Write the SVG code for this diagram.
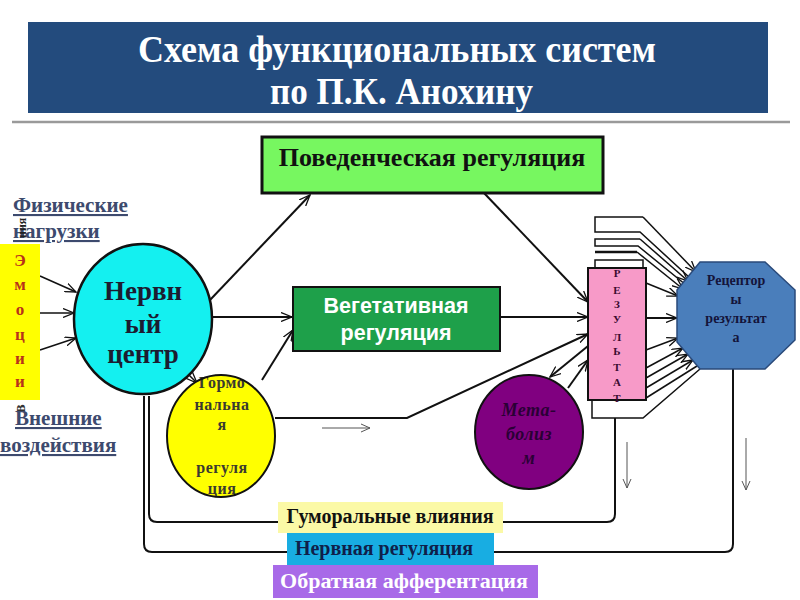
<svg xmlns="http://www.w3.org/2000/svg" width="800" height="600" viewBox="0 0 800 600">
<defs>
<marker id="ah" markerWidth="12" markerHeight="10" refX="11" refY="5" orient="auto" markerUnits="userSpaceOnUse">
<path d="M0,0.5 L11,5 L0,9.5" fill="none" stroke="#111" stroke-width="1.3"/>
</marker>
<marker id="ahg" markerWidth="10" markerHeight="10" refX="9" refY="5" orient="auto" markerUnits="userSpaceOnUse">
<path d="M0,1 L9,5 L0,9" fill="none" stroke="#555" stroke-width="1"/>
</marker>
<style>
.ser{font-family:"Liberation Serif","Times New Roman",serif;font-weight:bold}
.san{font-family:"Liberation Sans",Arial,sans-serif;font-weight:bold}
.ln{fill:none;stroke:#111;stroke-width:2}
.lt{fill:none;stroke:#111;stroke-width:1.5}
.side{fill:#3d4a6e;font-size:21px;text-decoration:underline}
</style>
</defs>
<rect width="800" height="600" fill="#ffffff"/>

<g id="title">
<rect x="28" y="22" width="740" height="91" fill="#234b7d"/>
<text class="ser" x="138" y="62" font-size="37" fill="#fff" textLength="518" lengthAdjust="spacingAndGlyphs">Схема функциональных систем</text>
<text class="ser" x="270" y="104" font-size="37" fill="#fff" textLength="263" lengthAdjust="spacingAndGlyphs">по П.К. Анохину</text>
</g>
<line x1="12" y1="122" x2="790" y2="122" stroke="#9a9a9a" stroke-width="2.5"/>

<g id="connectors">
<line class="ln" x1="210" y1="300" x2="310" y2="195" marker-end="url(#ah)"/>
<line class="ln" x1="212" y1="317" x2="292" y2="317" marker-end="url(#ah)"/>
<line class="ln" x1="262" y1="380" x2="293" y2="330" marker-end="url(#ah)"/>
<line class="lt" x1="186" y1="372" x2="197" y2="383" marker-end="url(#ah)"/>
<line class="ln" x1="484" y1="193" x2="588" y2="302" marker-end="url(#ah)"/>
<line class="ln" x1="500" y1="317" x2="588" y2="317" marker-end="url(#ah)"/>
<polyline class="ln" points="275,418 407,418 588,334" marker-end="url(#ah)"/>
<line class="ln" x1="588" y1="346" x2="550" y2="377" marker-end="url(#ah)"/>
<line class="ln" x1="568" y1="388" x2="588" y2="360" marker-end="url(#ah)"/>
<line x1="322" y1="428" x2="370" y2="428" stroke="#555" stroke-width="1" marker-end="url(#ahg)"/>
<line x1="627" y1="442" x2="627" y2="488" stroke="#555" stroke-width="1" marker-end="url(#ahg)"/>
<line x1="746" y1="438" x2="746" y2="490" stroke="#555" stroke-width="1" marker-end="url(#ahg)"/>
<line class="lt" x1="40" y1="276" x2="76" y2="292" marker-end="url(#ah)"/>
<line class="lt" x1="40" y1="313" x2="74" y2="313" marker-end="url(#ah)"/>
<line class="lt" x1="40" y1="350" x2="76" y2="338" marker-end="url(#ah)"/>
<line class="lt" x1="646" y1="283" x2="678" y2="296" marker-end="url(#ah)"/>
<line class="ln" x1="646" y1="318" x2="677" y2="318" marker-end="url(#ah)"/>
<line class="lt" x1="646" y1="350" x2="678" y2="338" marker-end="url(#ah)"/>
<line class="lt" x1="646" y1="368" x2="683" y2="348" marker-end="url(#ah)"/>
<line class="lt" x1="646" y1="378" x2="688" y2="354" marker-end="url(#ah)"/>
<line class="lt" x1="646" y1="388" x2="693" y2="360" marker-end="url(#ah)"/>
<path class="lt" d="M643,217 H595 V232 H640 L690,278"/>
<line class="lt" x1="643" y1="217" x2="696" y2="272" marker-end="url(#ah)"/>
<path class="lt" d="M640,239 H595 V246 H638 L686,285"/>
<line class="lt" x1="640" y1="239" x2="688" y2="281" marker-end="url(#ah)"/>
<line x1="595" y1="252" x2="637" y2="252" stroke="#111" stroke-width="2.5"/>
<line class="lt" x1="637" y1="252" x2="683" y2="289" marker-end="url(#ah)"/>
<rect x="595" y="260" width="48" height="8" fill="#fff" stroke="#111" stroke-width="1.5"/>
<path class="lt" d="M592,401 V418 H643 L700,369"/>
<line class="lt" x1="646" y1="398" x2="697" y2="366"/>
<path class="ln" d="M149,396 V514 Q149,522 157,522 H607 Q615,522 615,514 V418"/>
<path class="ln" d="M144,396 V544 Q144,552 152,552 H725 Q733,552 733,544 V369"/>
</g>

<g id="emotions">
<rect x="0" y="244" width="40" height="156" fill="#ffff00"/>
<g class="ser" font-size="17" fill="#b8321a" text-anchor="middle">
<text x="20" y="266">Э</text><text x="20" y="290">м</text><text x="20" y="315">о</text>
<text x="20" y="340">ц</text><text x="20" y="364">и</text><text x="20" y="387">и</text>
</g>
</g>

<g id="side-labels">
<text class="ser side" x="13" y="212">Физические</text>
<text class="ser side" x="13" y="238">нагрузки</text>
<text class="ser" font-size="12" fill="#222" transform="translate(26,238) rotate(-90)">ния</text>
<text class="ser" font-size="16" fill="#333" transform="translate(25,413) rotate(-90)">в</text>
<text class="ser side" x="15" y="425">Внешние</text>
<text class="ser side" x="0" y="452">воздействия</text>
</g>

<g id="nerve-center">
<ellipse cx="143" cy="319" rx="69" ry="75" fill="#14f0f0" stroke="#111" stroke-width="2.5"/>
<g class="ser" font-size="27" fill="#1c1c30" text-anchor="middle">
<text x="143" y="300">Нервн</text><text x="143" y="333">ый</text><text x="143" y="363">центр</text>
</g>
</g>

<g id="behavioral">
<rect x="262" y="137" width="341" height="56" fill="#77f760" stroke="#111" stroke-width="3"/>
<text class="ser" x="432" y="166" font-size="26" fill="#111" text-anchor="middle">Поведенческая регуляция</text>
</g>

<g id="vegetative">
<rect x="293" y="287" width="207" height="64" fill="#1ea04a" stroke="#111" stroke-width="2"/>
<text class="san" x="396" y="313" font-size="21.5" fill="#fff" text-anchor="middle">Вегетативная</text>
<text class="san" x="396" y="340" font-size="21.5" fill="#fff" text-anchor="middle">регуляция</text>
</g>

<g id="hormonal">
<ellipse cx="221" cy="436" rx="54" ry="61" fill="#ffff00"/>
<g class="ser" font-size="16" fill="#3a3a30" text-anchor="middle" letter-spacing="0.5">
<text x="222" y="388">Гормо</text><text x="222" y="410">нальна</text><text x="222" y="430">я</text>
<text x="222" y="473">регуля</text><text x="222" y="494">ция</text>
</g>
<ellipse cx="221" cy="436" rx="54" ry="61" fill="none" stroke="#111" stroke-width="2"/>
</g>

<g id="metabolism">
<ellipse cx="529" cy="432" rx="54" ry="57" fill="#800080" stroke="#111" stroke-width="2"/>
<g class="ser" font-size="18" font-style="italic" fill="#2a0035" text-anchor="middle" letter-spacing="0.5">
<text x="529" y="416">Мета-</text><text x="529" y="440">болиз</text><text x="529" y="464">м</text>
</g>
</g>

<g id="result">
<rect x="588" y="268" width="58" height="132" fill="#f79ac8" stroke="#111" stroke-width="2"/>
<g class="ser" font-size="11" fill="#3a0a30" text-anchor="middle">
<text x="617" y="277">Р</text><text x="617" y="294">Е</text><text x="617" y="308">З</text>
<text x="617" y="323">У</text><text x="617" y="341">Л</text><text x="617" y="355">Ь</text>
<text x="617" y="371">Т</text><text x="617" y="386">А</text><text x="617" y="402">Т</text>
</g>
</g>

<g id="receptors">
<polygon points="700,262 765,262 795,290 795,340 765,369 700,369 677,342 677,290" fill="#4a7ebb" stroke="#2a4a7a" stroke-width="1.5"/>
<g class="ser" font-size="14" fill="#14143a" text-anchor="middle">
<text x="736" y="285">Рецептор</text><text x="736" y="304">ы</text>
<text x="736" y="323">результат</text><text x="736" y="342">а</text>
</g>
</g>

<g id="humoral-label">
<rect x="278" y="502" width="225" height="31" fill="#fbf9a6"/>
<text class="ser" x="390" y="523" font-size="20" fill="#111" text-anchor="middle">Гуморальные влияния</text>
</g>
<g id="nervous-label">
<rect x="287" y="533" width="207" height="32" fill="#18ade2"/>
<text class="ser" x="384" y="555" font-size="20" fill="#0f1f4a" text-anchor="middle">Нервная регуляция</text>
</g>
<g id="afferent-label">
<rect x="273" y="565" width="265" height="33" fill="#a86ae8"/>
<text class="ser" x="404" y="588" font-size="22" fill="#fff" text-anchor="middle">Обратная афферентация</text>
</g>
</svg>
